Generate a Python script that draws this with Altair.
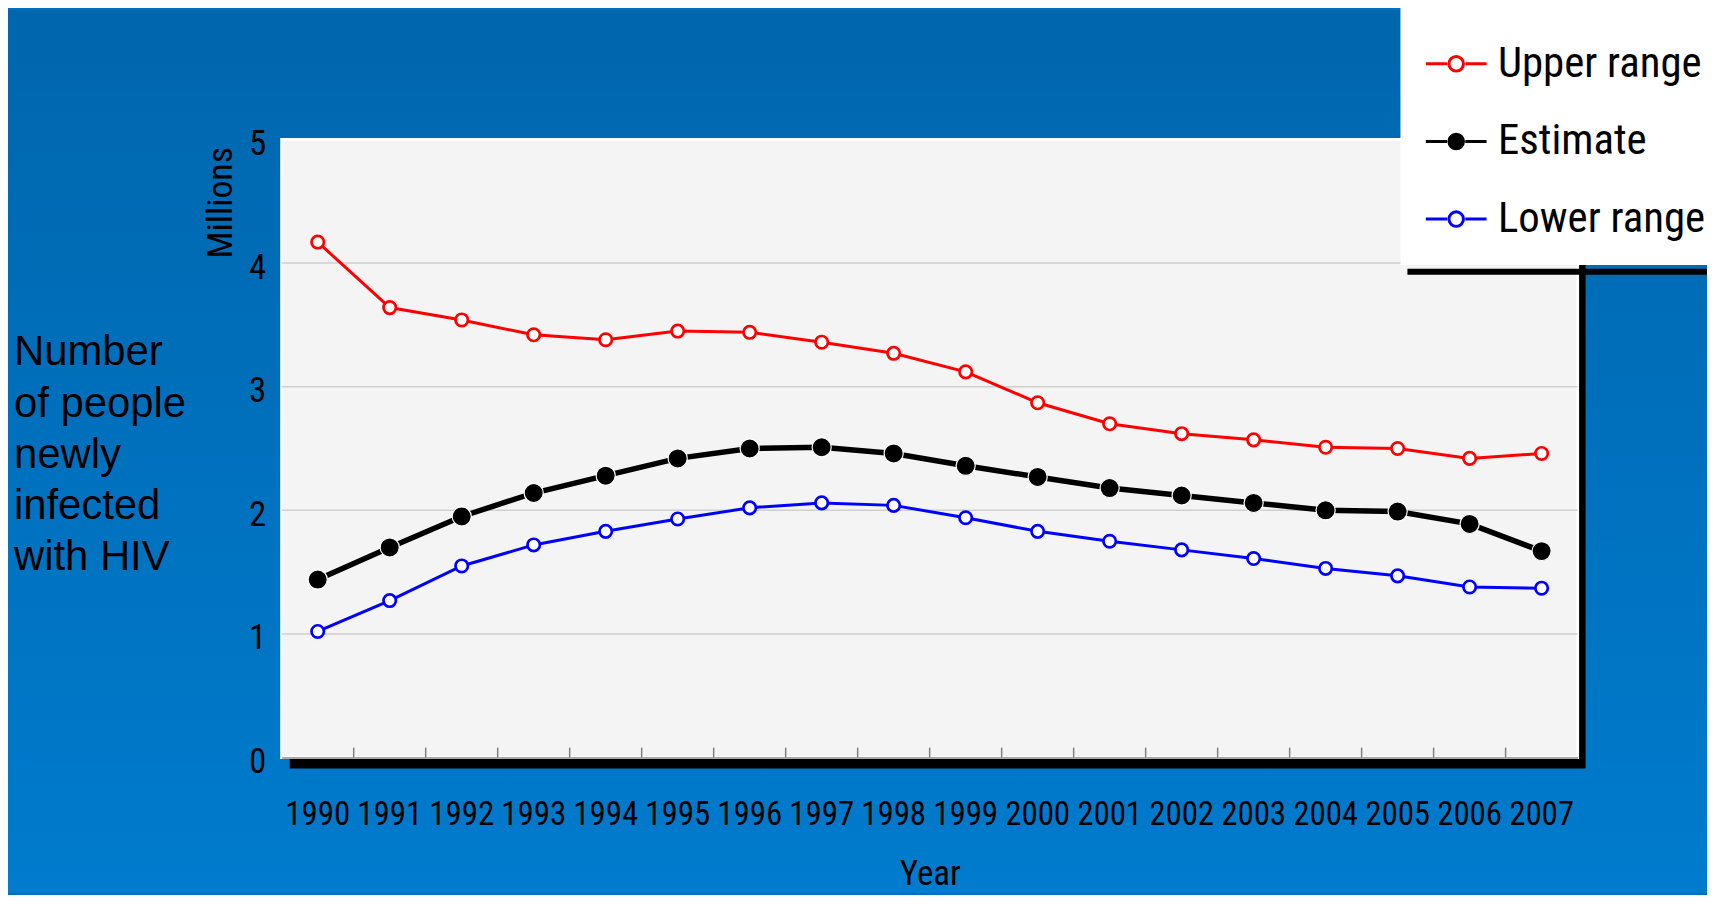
import altair as alt
import pandas as pd

# ---- data ----
years = list(range(1990, 2008))
upper = [4.17, 3.64, 3.54, 3.42, 3.38, 3.45, 3.44, 3.36, 3.27, 3.12, 2.87, 2.70, 2.62, 2.57, 2.51, 2.50, 2.42, 2.46]
estimate = [1.44, 1.70, 1.95, 2.14, 2.28, 2.42, 2.50, 2.51, 2.46, 2.36, 2.27, 2.18, 2.12, 2.06, 2.00, 1.99, 1.89, 1.67]
lower = [1.02, 1.27, 1.55, 1.72, 1.83, 1.93, 2.02, 2.06, 2.04, 1.94, 1.83, 1.75, 1.68, 1.61, 1.53, 1.47, 1.38, 1.37]
series_names = ["Upper range", "Estimate", "Lower range"]
y_ticks = [0, 1, 2, 3, 4, 5]
grid_values = [1, 2, 3, 4]
side_title = ["Number", "of people", "newly", "infected", "with HIV"]
y_title = "Millions"
x_title = "Year"

rows = []
for name, vals in zip(series_names, [upper, estimate, lower]):
    for yr, v in zip(years, vals):
        rows.append({"year": yr, "series": name, "value": v})
df = pd.DataFrame(rows)
tick_df = pd.DataFrame({"year": years[1:]})
grid_df = pd.DataFrame({"v": grid_values})
one = pd.DataFrame({"k": [0]})

W, H = 1302, 621
PAD = {"left": 275, "top": 130, "right": 130, "bottom": 136}

NARROW = "Roboto Condensed, Liberation Sans, sans-serif"
ARIAL = "Liberation Sans, Arial, sans-serif"

xscale = alt.Scale(type="band", domain=years, paddingInner=0, paddingOuter=0)
yscale = alt.Scale(domain=[0, 5], nice=False, zero=True)

xaxis = alt.Axis(
    title=x_title, labelAngle=0, labelFont=NARROW, labelFontSize=33, labelColor="black",
    labelPadding=41, labelOverlap=False, ticks=False, tickSize=0, domain=True,
    domainColor="#8a8a8a", domainWidth=1.5, grid=False, titleFont=NARROW, titleFontSize=35,
    titleFontWeight="normal", titleColor="black", titleBaseline="alphabetic", titleY=128, zindex=1,
)
yaxis = alt.Axis(
    title=y_title, values=y_ticks, format="d", labelFont=NARROW, labelFontSize=35,
    labelColor="black", labelPadding=16, labelOffset=4, ticks=False, tickSize=0, domain=False,
    grid=False, titleFont=NARROW, titleFontSize=36, titleFontWeight="normal", titleColor="black",
    titleAngle=270, titleAlign="right", titleBaseline="alphabetic", titleX=-50, titleY=7, zindex=1,
)

X = alt.X("year:O", scale=xscale, axis=xaxis, bandPosition=0.5)
Y = alt.Y("value:Q", scale=yscale, axis=yaxis)

sym_path = "M-1,0L-0.3,0M0.3,0L1,0M-0.24,0A0.24,0.24,0,1,1,0.24,0A0.24,0.24,0,1,1,-0.24,0Z"
legend = alt.Legend(
    title=None, orient="none", legendX=1124, legendY=-132, fillColor="white", padding=24,
    symbolType=sym_path, symbolSize=3721, symbolStrokeWidth=3, symbolOpacity=1,
    labelFont=NARROW, labelFontSize=43, labelColor="black", labelOffset=10, labelLimit=400,
    rowPadding=24, direction="vertical",
)
stroke_scale = alt.Scale(domain=series_names, range=["#ff0000", "#000000", "#0000ff"])
fill_scale = alt.Scale(domain=series_names, range=["#ffffff", "#000000", "#ffffff"])

grad = alt.Gradient(
    gradient="linear",
    stops=[alt.GradientStop(color="#0066AD", offset=0), alt.GradientStop(color="#007BCD", offset=1)],
    x1=0, x2=0, y1=0, y2=1,
)
background = alt.Chart(one).mark_rect(fill=grad).encode(
    x=alt.value(-PAD["left"]), x2=alt.value(W + PAD["right"]),
    y=alt.value(-PAD["top"]), y2=alt.value(H + PAD["bottom"]),
)
shadow = alt.Chart(one).mark_rect(fill="black").encode(
    x=alt.value(8), x2=alt.value(W + 8), y=alt.value(11), y2=alt.value(H + 11)
)
plot_bg = alt.Chart(one).mark_rect(fill="#f4f4f4", stroke="white", strokeWidth=3).encode(
    x=alt.value(0), x2=alt.value(W), y=alt.value(0), y2=alt.value(H)
)
grid = alt.Chart(grid_df).mark_rule(color="#cfcfcf", strokeWidth=1.5).encode(
    y=alt.Y("v:Q", scale=yscale, axis=yaxis), x=alt.value(0), x2=alt.value(W)
)
ticks = alt.Chart(tick_df).mark_rule(color="#808080", strokeWidth=1.5).encode(
    x=alt.X("year:O", scale=xscale, axis=xaxis, bandPosition=0),
    y=alt.value(H - 10), y2=alt.value(H),
)
leg_shadow = alt.Chart(one).mark_rect(fill="black").encode(
    x=alt.value(1131), x2=alt.value(W + PAD["right"]), y=alt.value(130), y2=alt.value(136)
)

is_est = alt.datum.series == "Estimate"
not_est = alt.datum.series != "Estimate"
stroke_enc = alt.Stroke("series:N", scale=stroke_scale, legend=legend)
fill_enc = alt.Fill("series:N", scale=fill_scale, legend=legend)

lines_rng = alt.Chart(df).transform_filter(not_est).mark_line(strokeWidth=3).encode(
    x=X, y=Y, stroke=stroke_enc, detail="series:N"
)
lines_est = alt.Chart(df).transform_filter(is_est).mark_line(strokeWidth=5.5).encode(
    x=X, y=Y, stroke=stroke_enc
)
pts_rng = alt.Chart(df).transform_filter(not_est).mark_point(
    shape="circle", opacity=1, strokeWidth=2.7, size=155
).encode(x=X, y=Y, stroke=stroke_enc, fill=fill_enc)
pts_est = alt.Chart(df).transform_filter(is_est).mark_point(
    shape="circle", opacity=1, strokeWidth=1.2, size=370
).encode(x=X, y=Y, fill=fill_enc, stroke=alt.value("white"))

side = alt.Chart(one).mark_text(
    align="left", baseline="alphabetic", font=ARIAL, fontSize=42, lineHeight=51.5, color="black"
).encode(x=alt.value(-269), y=alt.value(227), text=alt.value(side_title))

chart = alt.layer(
    background, shadow, plot_bg, grid, ticks, leg_shadow,
    lines_rng, lines_est, pts_rng, pts_est, side
).properties(
    width=W, height=H, padding=PAD, autosize=alt.AutoSizeParams(type="none"), background="#006FBC"
).configure_view(stroke=None).configure_legend(symbolSize=3721)

chart.save("out.html", embed_options={"renderer": "svg", "actions": False})
